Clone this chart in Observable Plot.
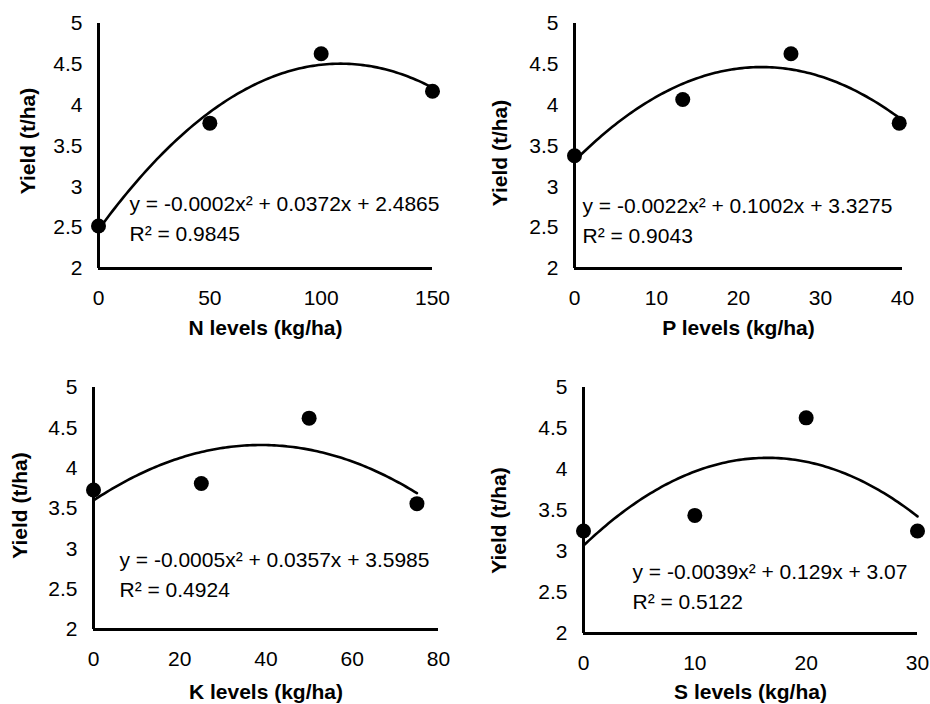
<!DOCTYPE html>
<html><head><meta charset="utf-8">
<script src="https://cdn.jsdelivr.net/npm/d3@7"></script>
<script src="https://cdn.jsdelivr.net/npm/@observablehq/plot@0.6"></script>
<style>
body{margin:0;background:#fff;}
#wrap{position:relative;width:930px;height:704px;background:#fff;}
.panel{position:absolute;width:465px;height:352px;}
</style></head><body><div id="wrap"></div>
<script>
// ---- data ----
const yTicks = [2, 2.5, 3, 3.5, 4, 4.5, 5];
const yTitle = "Yield (t/ha)";

const nLevels = [0, 50, 100, 150];
const nYield  = [2.52, 3.78, 4.63, 4.17];
const nTicks  = [0, 50, 100, 150];
const nTitle  = "N levels (kg/ha)";
const nEq     = "y = -0.0002x² + 0.0372x + 2.4865\nR² = 0.9845";

const pLevels = [0, 13.2, 26.4, 39.6];
const pYield  = [3.38, 4.07, 4.63, 3.78];
const pTicks  = [0, 10, 20, 30, 40];
const pTitle  = "P levels (kg/ha)";
const pEq     = "y = -0.0022x² + 0.1002x + 3.3275\nR² = 0.9043";

const kLevels = [0, 25, 50, 75];
const kYield  = [3.73, 3.81, 4.62, 3.56];
const kTicks  = [0, 20, 40, 60, 80];
const kTitle  = "K levels (kg/ha)";
const kEq     = "y = -0.0005x² + 0.0357x + 3.5985\nR² = 0.4924";

const sLevels = [0, 10, 20, 30];
const sYield  = [3.25, 3.44, 4.63, 3.25];
const sTicks  = [0, 10, 20, 30];
const sTitle  = "S levels (kg/ha)";
const sEq     = "y = -0.0039x² + 0.129x + 3.07\nR² = 0.5122";

// least-squares quadratic trendline (as the spreadsheet computed it)
function quadFit(xs, ys) {
  const S = k => d3.sum(xs, x => x ** k);
  const T = k => d3.sum(xs, (x, i) => x ** k * ys[i]);
  const A = [[S(0), S(1), S(2), T(0)], [S(1), S(2), S(3), T(1)], [S(2), S(3), S(4), T(2)]];
  for (let i = 0; i < 3; i++) {
    for (let j = i + 1; j < 3; j++) {
      const f = A[j][i] / A[i][i];
      for (let k = i; k < 4; k++) A[j][k] -= f * A[i][k];
    }
  }
  const c = [0, 0, 0];
  for (let i = 2; i >= 0; i--) {
    let s = A[i][3];
    for (let k = i + 1; k < 3; k++) s -= A[i][k] * c[k];
    c[i] = s / A[i][i];
  }
  return x => c[0] + c[1] * x + c[2] * x * x;
}

const FONT = "'Liberation Sans', Arial, Helvetica, sans-serif";

function panel(cfg) {
  const data = cfg.levels.map((x, i) => ({x, y: cfg.yields[i]}));
  const f = quadFit(cfg.levels, cfg.yields);
  const x0 = d3.min(cfg.levels), x1 = d3.max(cfg.levels);
  const curve = d3.range(0, 121).map(i => { const x = x0 + (x1 - x0) * i / 120; return {x, y: f(x)}; });
  return Plot.plot({
    width: 465, height: 352,
    marginLeft: cfg.ml, marginRight: cfg.mr, marginTop: cfg.mt, marginBottom: cfg.mb,
    style: {fontFamily: FONT, color: "#000", background: "transparent", overflow: "visible"},
    x: {domain: cfg.domain},
    y: {domain: [2, 5]},
    marks: [
      Plot.axisY(yTicks, {tickSize: 0, tickPadding: 16, tickFormat: d => String(d), fontSize: 21, label: null}),
      Plot.axisX(cfg.ticks, {tickSize: 0, tickPadding: 22, tickFormat: d => String(d), fontSize: 21, label: null}),
      Plot.ruleX([cfg.domain[0]], {stroke: "#000", strokeWidth: 3}),
      Plot.ruleY([2], {stroke: "#000", strokeWidth: 3}),
      Plot.line(curve, {x: "x", y: "y", stroke: "#000", strokeWidth: 2.6}),
      Plot.dot(data, {x: "x", y: "y", r: 7.5, fill: "#000", stroke: "none"}),
      Plot.text([cfg.eq], {text: d => d, frameAnchor: "top-left", dx: cfg.eqDx, dy: cfg.eqDy,
        textAnchor: "start", lineAnchor: "middle", lineHeight: 1.4, fontSize: 21, fill: "#000"}),
      Plot.text([cfg.title], {text: d => d, frameAnchor: "bottom", dy: cfg.xtDy, lineAnchor: "middle",
        fontSize: 21, fontWeight: "bold", fill: "#000"}),
      Plot.text([yTitle], {text: d => d, frameAnchor: "left", rotate: -90, dx: cfg.ytDx, dy: cfg.ytDy,
        lineAnchor: "middle", textAnchor: "middle", fontSize: 21, fontWeight: "bold", fill: "#000"})
    ]
  });
}

const panels = [
  {left: 0, top: 0, levels: nLevels, yields: nYield, ticks: nTicks, domain: [0, 150], title: nTitle, eq: nEq,
   ml: 98, mr: 33, mt: 23, mb: 84, eqDx: 31, eqDy: 193, xtDy: 60, ytDx: -70, ytDy: -5},
  {left: 465, top: 0, levels: pLevels, yields: pYield, ticks: pTicks, domain: [0, 40], title: pTitle, eq: pEq,
   ml: 109, mr: 28, mt: 23, mb: 84, eqDx: 8, eqDy: 195, xtDy: 60, ytDx: -74, ytDy: 7},
  {left: 0, top: 352, levels: kLevels, yields: kYield, ticks: kTicks, domain: [0, 80], title: kTitle, eq: kEq,
   ml: 93, mr: 27, mt: 35, mb: 75, eqDx: 26, eqDy: 185, xtDy: 63, ytDx: -73, ytDy: -3},
  {left: 465, top: 352, levels: sLevels, yields: sYield, ticks: sTicks, domain: [0, 30], title: sTitle, eq: sEq,
   ml: 118, mr: 13, mt: 35, mb: 71, eqDx: 49, eqDy: 197, xtDy: 59, ytDx: -84, ytDy: 10}
];

const wrap = document.getElementById("wrap");
for (const p of panels) {
  const div = document.createElement("div");
  div.className = "panel";
  div.style.left = p.left + "px";
  div.style.top = p.top + "px";
  div.appendChild(panel(p));
  wrap.appendChild(div);
}
</script>
</body></html>
